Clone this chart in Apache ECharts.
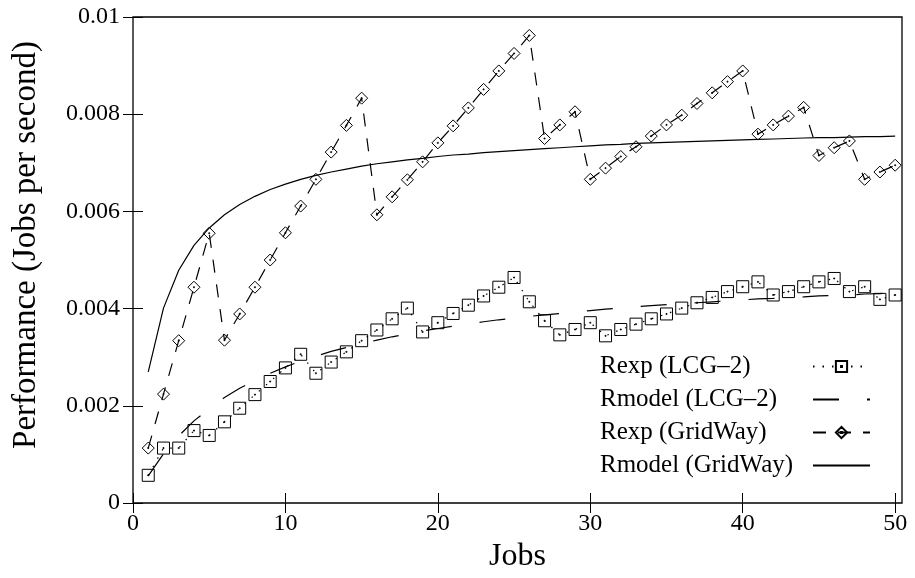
<!DOCTYPE html>
<html>
<head>
<meta charset="utf-8">
<script src="https://cdn.jsdelivr.net/npm/echarts@6/dist/echarts.min.js"></script>
<style>html,body{margin:0;padding:0;background:#fff;}#c{width:915px;height:578px;}</style>
</head>
<body>
<div id="c"></div>
<script>
var jobs = [1,2,3,4,5,6,7,8,9,10,11,12,13,14,15,16,17,18,19,20,21,22,23,24,25,26,27,28,29,30,31,32,33,34,35,36,37,38,39,40,41,42,43,44,45,46,47,48,49,50];
var rexpLCG = [0.00057,0.00113,0.00113,0.00149,0.00139,0.00167,0.00195,0.00223,0.00250,0.00278,
  0.00306,0.00267,0.00290,0.00311,0.00334,0.00356,0.00379,0.00401,0.00352,0.00371,
  0.00390,0.00407,0.00426,0.00444,0.00464,0.00414,0.00375,0.00346,0.00357,0.00371,
  0.00344,0.00357,0.00368,0.00379,0.00389,0.00401,0.00412,0.00423,0.00435,0.00445,
  0.00455,0.00428,0.00435,0.00445,0.00455,0.00462,0.00435,0.00445,0.00419,0.00428];
var rmodelLCG = [0.00056,0.00101,0.00138,0.00169,0.00194,0.00217,0.00236,0.00252,0.00267,0.00280,
  0.00292,0.00302,0.00312,0.00320,0.00328,0.00335,0.00342,0.00348,0.00354,0.00359,
  0.00364,0.00368,0.00373,0.00377,0.00380,0.00384,0.00387,0.00390,0.00393,0.00396,
  0.00399,0.00401,0.00404,0.00406,0.00408,0.00410,0.00412,0.00414,0.00416,0.00418,
  0.00420,0.00421,0.00423,0.00424,0.00426,0.00427,0.00428,0.00430,0.00431,0.00432];
var rexpGW = [0.00113,0.00224,0.00334,0.00444,0.00555,0.00335,0.00389,0.00444,0.00500,0.00556,
  0.00611,0.00666,0.00722,0.00777,0.00833,0.00593,0.00630,0.00665,0.00702,0.00741,
  0.00776,0.00813,0.00851,0.00889,0.00925,0.00962,0.00750,0.00778,0.00805,0.00666,
  0.00689,0.00713,0.00733,0.00755,0.00778,0.00798,0.00822,0.00844,0.00867,0.00889,
  0.00759,0.00778,0.00796,0.00814,0.00715,0.00731,0.00745,0.00666,0.00681,0.00695];
var rmodelGW = [0.00270,0.00401,0.00479,0.00530,0.00566,0.00593,0.00614,0.00631,0.00645,0.00656,
  0.00666,0.00674,0.00681,0.00687,0.00693,0.00698,0.00702,0.00706,0.00709,0.00713,
  0.00716,0.00718,0.00721,0.00723,0.00725,0.00727,0.00729,0.00731,0.00733,0.00735,
  0.00737,0.00738,0.00740,0.00741,0.00742,0.00743,0.00744,0.00745,0.00746,0.00747,
  0.00748,0.00749,0.00750,0.00751,0.00752,0.00752,0.00753,0.00754,0.00754,0.00755];
var xTicks = [0,10,20,30,40,50];
var yTicks = [0,0.002,0.004,0.006,0.008,0.01];
var names = ['Rexp (LCG\u20132)','Rmodel (LCG\u20132)','Rexp (GridWay)','Rmodel (GridWay)'];

function pairs(ys){ return jobs.map(function(x,i){ return [x, ys[i]]; }); }

var FONT = '"Liberation Serif", "Times New Roman", serif';
var SQUARE = 'path://M0,0L10,0L10,10L0,10Z M4.6,4.6L5.4,4.6L5.4,5.4L4.6,5.4Z';
var DIAMOND = 'path://M5,0L10,5L5,10L0,5Z M4.6,4.6L5.4,4.6L5.4,5.4L4.6,5.4Z';
var hollow = {color:'rgba(0,0,0,0)', borderColor:'#000', borderWidth:1};
var noSym = {color:'rgba(0,0,0,0)', borderWidth:0};

var chart = echarts.init(document.getElementById('c'), null, {renderer:'canvas'});
chart.setOption({
  animation:false,
  backgroundColor:'#fff',
  grid:{left:133, right:13, top:17, bottom:75, show:true, borderColor:'#000', borderWidth:1.3, backgroundColor:'rgba(0,0,0,0)'},
  legend:{
    orient:'vertical', left:595, top:349, itemGap:8, itemWidth:57, itemHeight:14, align:'right',
    data:names,
    formatter:function(n){ return '{a|' + n + '}'; },
    textStyle:{fontFamily:FONT, fontSize:25, color:'#000',
      rich:{a:{width:208, align:'left', fontFamily:FONT, fontSize:25, lineHeight:25, color:'#000'}}}
  },
  xAxis:[{
    type:'value', min:0, max:50.45, interval:10,
    name:'Jobs', nameLocation:'middle', nameGap:36,
    nameTextStyle:{fontFamily:FONT, fontSize:32, color:'#000'},
    axisLine:{show:false}, splitLine:{show:false},
    axisTick:{inside:true, length:10, lineStyle:{color:'#000'}, customValues:xTicks},
    axisLabel:{fontFamily:FONT, fontSize:24, color:'#000', margin:9, customValues:xTicks}
  },{
    type:'value', position:'top', min:0, max:50.45, interval:10,
    axisLine:{show:false}, splitLine:{show:false}, axisLabel:{show:false},
    axisTick:{inside:true, length:10, lineStyle:{color:'#000'}, customValues:xTicks}
  }],
  yAxis:[{
    type:'value', min:0, max:0.01, interval:0.002,
    name:'Performance (Jobs per second)', nameLocation:'middle', nameGap:90,
    nameTextStyle:{fontFamily:FONT, fontSize:33, color:'#000', padding:[0,0,0,30]},
    axisLine:{show:false}, splitLine:{show:false},
    axisTick:{inside:true, length:10, lineStyle:{color:'#000'}},
    axisLabel:{fontFamily:FONT, fontSize:24, color:'#000', margin:13,
      formatter:function(v){ return String(+v.toFixed(4)); }}
  },{
    type:'value', position:'right', min:0, max:0.01, interval:0.002,
    axisLine:{show:false}, splitLine:{show:false}, axisLabel:{show:false},
    axisTick:{inside:true, length:10, lineStyle:{color:'#000'}}
  }],
  series:[
    {name:names[0], type:'line', data:pairs(rexpLCG), symbol:SQUARE, symbolSize:12,
     itemStyle:hollow, lineStyle:{color:'#000', width:1.2, type:[1.5,8]}},
    {name:names[1], type:'line', data:pairs(rmodelLCG), symbol:'none',
     itemStyle:noSym, lineStyle:{color:'#000', width:1.2, type:[26,28]}},
    {name:names[2], type:'line', data:pairs(rexpGW), symbol:DIAMOND, symbolSize:12,
     itemStyle:hollow, lineStyle:{color:'#000', width:1.2, type:[13,12]}},
    {name:names[3], type:'line', data:pairs(rmodelGW), symbol:'none',
     itemStyle:noSym, lineStyle:{color:'#000', width:1.2}}
  ]
});
</script>
</body>
</html>
